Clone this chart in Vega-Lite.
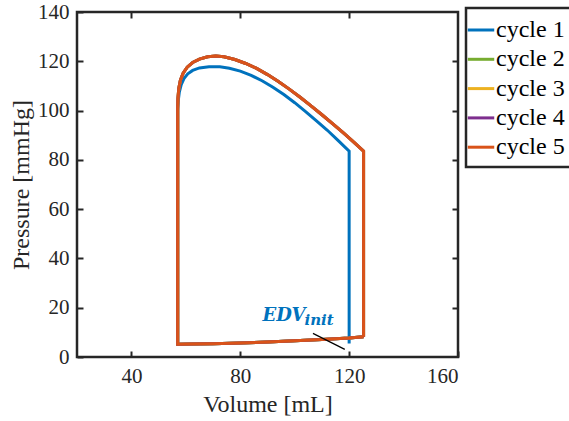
{
  "$schema": "https://vega.github.io/schema/vega-lite/v6.json",
  "width": 381,
  "height": 345,
  "autosize": "none",
  "padding": {"left": 77, "top": 12, "right": 111, "bottom": 64},
  "background": "white",
  "config": {
    "view": {"stroke": "#262626", "strokeWidth": 2.5},
    "font": "Liberation Serif",
    "axis": {
      "grid": false,
      "domain": false,
      "labelFont": "Liberation Serif",
      "labelFontSize": 21,
      "labelColor": "#262626",
      "tickColor": "#262626",
      "tickWidth": 2,
      "tickSize": -6,
      "titleFont": "Liberation Serif",
      "titleFontSize": 24,
      "titleFontWeight": "normal",
      "titleColor": "#262626"
    },
    "legend": {"strokeColor": "#262626", "fillColor": "white"}
  },
  "datasets": {
    "pv": [
      {"cycle": "cycle 1", "i": 0, "V": 120, "P": 5.5},
      {"cycle": "cycle 1", "i": 1, "V": 120, "P": 83.5},
      {"cycle": "cycle 1", "i": 2, "V": 116, "P": 87.8},
      {"cycle": "cycle 1", "i": 3, "V": 112, "P": 92.0},
      {"cycle": "cycle 1", "i": 4, "V": 108, "P": 95.8},
      {"cycle": "cycle 1", "i": 5, "V": 104, "P": 99.6},
      {"cycle": "cycle 1", "i": 6, "V": 100, "P": 103.2},
      {"cycle": "cycle 1", "i": 7, "V": 96, "P": 106.5},
      {"cycle": "cycle 1", "i": 8, "V": 92, "P": 109.5},
      {"cycle": "cycle 1", "i": 9, "V": 88, "P": 112.1},
      {"cycle": "cycle 1", "i": 10, "V": 84, "P": 114.3},
      {"cycle": "cycle 1", "i": 11, "V": 80, "P": 116.0},
      {"cycle": "cycle 1", "i": 12, "V": 76, "P": 117.2},
      {"cycle": "cycle 1", "i": 13, "V": 72.5, "P": 117.8},
      {"cycle": "cycle 1", "i": 14, "V": 68.5, "P": 117.8},
      {"cycle": "cycle 1", "i": 15, "V": 65, "P": 117.3},
      {"cycle": "cycle 1", "i": 16, "V": 62.5, "P": 116.3},
      {"cycle": "cycle 1", "i": 17, "V": 60.7, "P": 114.9},
      {"cycle": "cycle 1", "i": 18, "V": 59.3, "P": 113},
      {"cycle": "cycle 1", "i": 19, "V": 58.3, "P": 110.5},
      {"cycle": "cycle 1", "i": 20, "V": 57.6, "P": 107.5},
      {"cycle": "cycle 1", "i": 21, "V": 57.2, "P": 104},
      {"cycle": "cycle 1", "i": 22, "V": 57, "P": 100},
      {"cycle": "cycle 1", "i": 23, "V": 57, "P": 5.2},
      {"cycle": "cycle 1", "i": 24, "V": 62, "P": 5.3},
      {"cycle": "cycle 1", "i": 25, "V": 70, "P": 5.4},
      {"cycle": "cycle 1", "i": 26, "V": 80, "P": 5.7},
      {"cycle": "cycle 1", "i": 27, "V": 90, "P": 6.1},
      {"cycle": "cycle 1", "i": 28, "V": 100, "P": 6.6},
      {"cycle": "cycle 1", "i": 29, "V": 110, "P": 7.1},
      {"cycle": "cycle 1", "i": 30, "V": 120, "P": 7.7},
      {"cycle": "cycle 1", "i": 31, "V": 125.3, "P": 8.2},

      {"cycle": "cycle 2", "i": 0, "V": 125.3, "P": 8.2},
      {"cycle": "cycle 2", "i": 1, "V": 125.3, "P": 83.5},
      {"cycle": "cycle 2", "i": 2, "V": 122, "P": 86.9},
      {"cycle": "cycle 2", "i": 3, "V": 118, "P": 90.8},
      {"cycle": "cycle 2", "i": 4, "V": 114, "P": 94.6},
      {"cycle": "cycle 2", "i": 5, "V": 110, "P": 98.3},
      {"cycle": "cycle 2", "i": 6, "V": 106, "P": 101.9},
      {"cycle": "cycle 2", "i": 7, "V": 102, "P": 105.4},
      {"cycle": "cycle 2", "i": 8, "V": 98, "P": 108.7},
      {"cycle": "cycle 2", "i": 9, "V": 94, "P": 111.8},
      {"cycle": "cycle 2", "i": 10, "V": 90, "P": 114.6},
      {"cycle": "cycle 2", "i": 11, "V": 86, "P": 117.1},
      {"cycle": "cycle 2", "i": 12, "V": 82, "P": 119.1},
      {"cycle": "cycle 2", "i": 13, "V": 78, "P": 120.7},
      {"cycle": "cycle 2", "i": 14, "V": 74, "P": 121.8},
      {"cycle": "cycle 2", "i": 15, "V": 71, "P": 122.1},
      {"cycle": "cycle 2", "i": 16, "V": 68, "P": 121.8},
      {"cycle": "cycle 2", "i": 17, "V": 65, "P": 120.9},
      {"cycle": "cycle 2", "i": 18, "V": 62.5, "P": 119.5},
      {"cycle": "cycle 2", "i": 19, "V": 60.5, "P": 117.6},
      {"cycle": "cycle 2", "i": 20, "V": 59, "P": 115.2},
      {"cycle": "cycle 2", "i": 21, "V": 58, "P": 112.3},
      {"cycle": "cycle 2", "i": 22, "V": 57.4, "P": 109},
      {"cycle": "cycle 2", "i": 23, "V": 57.1, "P": 105},
      {"cycle": "cycle 2", "i": 24, "V": 57, "P": 101},
      {"cycle": "cycle 2", "i": 25, "V": 57, "P": 5.2},
      {"cycle": "cycle 2", "i": 26, "V": 62, "P": 5.3},
      {"cycle": "cycle 2", "i": 27, "V": 70, "P": 5.4},
      {"cycle": "cycle 2", "i": 28, "V": 80, "P": 5.7},
      {"cycle": "cycle 2", "i": 29, "V": 90, "P": 6.1},
      {"cycle": "cycle 2", "i": 30, "V": 100, "P": 6.6},
      {"cycle": "cycle 2", "i": 31, "V": 110, "P": 7.1},
      {"cycle": "cycle 2", "i": 32, "V": 120, "P": 7.7},
      {"cycle": "cycle 2", "i": 33, "V": 125.3, "P": 8.2},

      {"cycle": "cycle 3", "i": 0, "V": 125.3, "P": 8.2},
      {"cycle": "cycle 3", "i": 1, "V": 125.3, "P": 83.5},
      {"cycle": "cycle 3", "i": 2, "V": 122, "P": 86.9},
      {"cycle": "cycle 3", "i": 3, "V": 118, "P": 90.8},
      {"cycle": "cycle 3", "i": 4, "V": 114, "P": 94.6},
      {"cycle": "cycle 3", "i": 5, "V": 110, "P": 98.3},
      {"cycle": "cycle 3", "i": 6, "V": 106, "P": 101.9},
      {"cycle": "cycle 3", "i": 7, "V": 102, "P": 105.4},
      {"cycle": "cycle 3", "i": 8, "V": 98, "P": 108.7},
      {"cycle": "cycle 3", "i": 9, "V": 94, "P": 111.8},
      {"cycle": "cycle 3", "i": 10, "V": 90, "P": 114.6},
      {"cycle": "cycle 3", "i": 11, "V": 86, "P": 117.1},
      {"cycle": "cycle 3", "i": 12, "V": 82, "P": 119.1},
      {"cycle": "cycle 3", "i": 13, "V": 78, "P": 120.7},
      {"cycle": "cycle 3", "i": 14, "V": 74, "P": 121.8},
      {"cycle": "cycle 3", "i": 15, "V": 71, "P": 122.1},
      {"cycle": "cycle 3", "i": 16, "V": 68, "P": 121.8},
      {"cycle": "cycle 3", "i": 17, "V": 65, "P": 120.9},
      {"cycle": "cycle 3", "i": 18, "V": 62.5, "P": 119.5},
      {"cycle": "cycle 3", "i": 19, "V": 60.5, "P": 117.6},
      {"cycle": "cycle 3", "i": 20, "V": 59, "P": 115.2},
      {"cycle": "cycle 3", "i": 21, "V": 58, "P": 112.3},
      {"cycle": "cycle 3", "i": 22, "V": 57.4, "P": 109},
      {"cycle": "cycle 3", "i": 23, "V": 57.1, "P": 105},
      {"cycle": "cycle 3", "i": 24, "V": 57, "P": 101},
      {"cycle": "cycle 3", "i": 25, "V": 57, "P": 5.2},
      {"cycle": "cycle 3", "i": 26, "V": 62, "P": 5.3},
      {"cycle": "cycle 3", "i": 27, "V": 70, "P": 5.4},
      {"cycle": "cycle 3", "i": 28, "V": 80, "P": 5.7},
      {"cycle": "cycle 3", "i": 29, "V": 90, "P": 6.1},
      {"cycle": "cycle 3", "i": 30, "V": 100, "P": 6.6},
      {"cycle": "cycle 3", "i": 31, "V": 110, "P": 7.1},
      {"cycle": "cycle 3", "i": 32, "V": 120, "P": 7.7},
      {"cycle": "cycle 3", "i": 33, "V": 125.3, "P": 8.2},

      {"cycle": "cycle 4", "i": 0, "V": 125.3, "P": 8.2},
      {"cycle": "cycle 4", "i": 1, "V": 125.3, "P": 83.5},
      {"cycle": "cycle 4", "i": 2, "V": 122, "P": 86.9},
      {"cycle": "cycle 4", "i": 3, "V": 118, "P": 90.8},
      {"cycle": "cycle 4", "i": 4, "V": 114, "P": 94.6},
      {"cycle": "cycle 4", "i": 5, "V": 110, "P": 98.3},
      {"cycle": "cycle 4", "i": 6, "V": 106, "P": 101.9},
      {"cycle": "cycle 4", "i": 7, "V": 102, "P": 105.4},
      {"cycle": "cycle 4", "i": 8, "V": 98, "P": 108.7},
      {"cycle": "cycle 4", "i": 9, "V": 94, "P": 111.8},
      {"cycle": "cycle 4", "i": 10, "V": 90, "P": 114.6},
      {"cycle": "cycle 4", "i": 11, "V": 86, "P": 117.1},
      {"cycle": "cycle 4", "i": 12, "V": 82, "P": 119.1},
      {"cycle": "cycle 4", "i": 13, "V": 78, "P": 120.7},
      {"cycle": "cycle 4", "i": 14, "V": 74, "P": 121.8},
      {"cycle": "cycle 4", "i": 15, "V": 71, "P": 122.1},
      {"cycle": "cycle 4", "i": 16, "V": 68, "P": 121.8},
      {"cycle": "cycle 4", "i": 17, "V": 65, "P": 120.9},
      {"cycle": "cycle 4", "i": 18, "V": 62.5, "P": 119.5},
      {"cycle": "cycle 4", "i": 19, "V": 60.5, "P": 117.6},
      {"cycle": "cycle 4", "i": 20, "V": 59, "P": 115.2},
      {"cycle": "cycle 4", "i": 21, "V": 58, "P": 112.3},
      {"cycle": "cycle 4", "i": 22, "V": 57.4, "P": 109},
      {"cycle": "cycle 4", "i": 23, "V": 57.1, "P": 105},
      {"cycle": "cycle 4", "i": 24, "V": 57, "P": 101},
      {"cycle": "cycle 4", "i": 25, "V": 57, "P": 5.2},
      {"cycle": "cycle 4", "i": 26, "V": 62, "P": 5.3},
      {"cycle": "cycle 4", "i": 27, "V": 70, "P": 5.4},
      {"cycle": "cycle 4", "i": 28, "V": 80, "P": 5.7},
      {"cycle": "cycle 4", "i": 29, "V": 90, "P": 6.1},
      {"cycle": "cycle 4", "i": 30, "V": 100, "P": 6.6},
      {"cycle": "cycle 4", "i": 31, "V": 110, "P": 7.1},
      {"cycle": "cycle 4", "i": 32, "V": 120, "P": 7.7},
      {"cycle": "cycle 4", "i": 33, "V": 125.3, "P": 8.2},

      {"cycle": "cycle 5", "i": 0, "V": 125.3, "P": 8.2},
      {"cycle": "cycle 5", "i": 1, "V": 125.3, "P": 83.5},
      {"cycle": "cycle 5", "i": 2, "V": 122, "P": 86.9},
      {"cycle": "cycle 5", "i": 3, "V": 118, "P": 90.8},
      {"cycle": "cycle 5", "i": 4, "V": 114, "P": 94.6},
      {"cycle": "cycle 5", "i": 5, "V": 110, "P": 98.3},
      {"cycle": "cycle 5", "i": 6, "V": 106, "P": 101.9},
      {"cycle": "cycle 5", "i": 7, "V": 102, "P": 105.4},
      {"cycle": "cycle 5", "i": 8, "V": 98, "P": 108.7},
      {"cycle": "cycle 5", "i": 9, "V": 94, "P": 111.8},
      {"cycle": "cycle 5", "i": 10, "V": 90, "P": 114.6},
      {"cycle": "cycle 5", "i": 11, "V": 86, "P": 117.1},
      {"cycle": "cycle 5", "i": 12, "V": 82, "P": 119.1},
      {"cycle": "cycle 5", "i": 13, "V": 78, "P": 120.7},
      {"cycle": "cycle 5", "i": 14, "V": 74, "P": 121.8},
      {"cycle": "cycle 5", "i": 15, "V": 71, "P": 122.1},
      {"cycle": "cycle 5", "i": 16, "V": 68, "P": 121.8},
      {"cycle": "cycle 5", "i": 17, "V": 65, "P": 120.9},
      {"cycle": "cycle 5", "i": 18, "V": 62.5, "P": 119.5},
      {"cycle": "cycle 5", "i": 19, "V": 60.5, "P": 117.6},
      {"cycle": "cycle 5", "i": 20, "V": 59, "P": 115.2},
      {"cycle": "cycle 5", "i": 21, "V": 58, "P": 112.3},
      {"cycle": "cycle 5", "i": 22, "V": 57.4, "P": 109},
      {"cycle": "cycle 5", "i": 23, "V": 57.1, "P": 105},
      {"cycle": "cycle 5", "i": 24, "V": 57, "P": 101},
      {"cycle": "cycle 5", "i": 25, "V": 57, "P": 5.2},
      {"cycle": "cycle 5", "i": 26, "V": 62, "P": 5.3},
      {"cycle": "cycle 5", "i": 27, "V": 70, "P": 5.4},
      {"cycle": "cycle 5", "i": 28, "V": 80, "P": 5.7},
      {"cycle": "cycle 5", "i": 29, "V": 90, "P": 6.1},
      {"cycle": "cycle 5", "i": 30, "V": 100, "P": 6.6},
      {"cycle": "cycle 5", "i": 31, "V": 110, "P": 7.1},
      {"cycle": "cycle 5", "i": 32, "V": 120, "P": 7.7},
      {"cycle": "cycle 5", "i": 33, "V": 125.3, "P": 8.2}
    ],
    "arrow": [
      {"i": 0, "V": 106.7, "P": 9.6},
      {"i": 1, "V": 118.4, "P": 3.1}
    ],
    "edv": [{"V": 88.2, "P": 14.7, "label": "EDV"}],
    "init": [{"V": 103.6, "P": 13, "label": "init"}]
  },
  "resolve": {"axis": {"x": "independent", "y": "independent"}},
  "layer": [
    {
      "data": {"name": "pv"},
      "mark": {"type": "line", "strokeWidth": 3, "strokeJoin": "miter"},
      "encoding": {
        "x": {
          "field": "V", "type": "quantitative",
          "scale": {"domain": [20, 160], "nice": false, "zero": false},
          "axis": {"values": [40, 80, 120, 160], "title": "Volume [mL]", "labelPadding": 14, "titlePadding": 6}
        },
        "y": {
          "field": "P", "type": "quantitative",
          "scale": {"domain": [0, 140], "nice": false},
          "axis": {"values": [0, 20, 40, 60, 80, 100, 120, 140], "title": "Pressure [mmHg]", "labelPadding": 14, "titlePadding": 4}
        },
        "color": {
          "field": "cycle", "type": "nominal",
          "scale": {
            "domain": ["cycle 1", "cycle 2", "cycle 3", "cycle 4", "cycle 5"],
            "range": ["#0072BD", "#77AC30", "#EDB120", "#7E2F8E", "#D95319"]
          },
          "legend": {
            "orient": "none", "legendX": 389, "legendY": -4,
            "title": null,
            "symbolType": "stroke", "symbolStrokeWidth": 3, "symbolSize": 700,
            "symbolOffset": -7,
            "labelFont": "Liberation Serif", "labelFontSize": 24, "labelColor": "black",
            "labelOffset": 0,
            "rowPadding": 2.3, "padding": 7,
            "encode": {"legend": {"update": {"strokeWidth": {"value": 2.5}}}}
          }
        },
        "order": {"field": "i", "type": "quantitative"}
      }
    },
    {
      "data": {"name": "arrow"},
      "mark": {"type": "line", "color": "black", "strokeWidth": 1.2},
      "encoding": {
        "x": {"field": "V", "type": "quantitative", "axis": {"orient": "top", "values": [40, 80, 120], "labels": false, "title": null}},
        "y": {"field": "P", "type": "quantitative", "axis": {"orient": "right", "values": [20, 40, 60, 80, 100, 120], "labels": false, "title": null}},
        "order": {"field": "i", "type": "quantitative"}
      }
    },
    {
      "data": {"name": "edv"},
      "mark": {"type": "text", "align": "left", "baseline": "alphabetic", "font": "DejaVu Serif", "fontSize": 18, "fontWeight": "bold", "fontStyle": "italic", "color": "#0072BD"},
      "encoding": {
        "x": {"field": "V", "type": "quantitative", "axis": null},
        "y": {"field": "P", "type": "quantitative", "axis": null},
        "text": {"field": "label"}
      }
    },
    {
      "data": {"name": "init"},
      "mark": {"type": "text", "align": "left", "baseline": "alphabetic", "font": "DejaVu Serif", "fontSize": 15, "fontWeight": "bold", "fontStyle": "italic", "color": "#0072BD"},
      "encoding": {
        "x": {"field": "V", "type": "quantitative", "axis": null},
        "y": {"field": "P", "type": "quantitative", "axis": null},
        "text": {"field": "label"}
      }
    }
  ]
}
